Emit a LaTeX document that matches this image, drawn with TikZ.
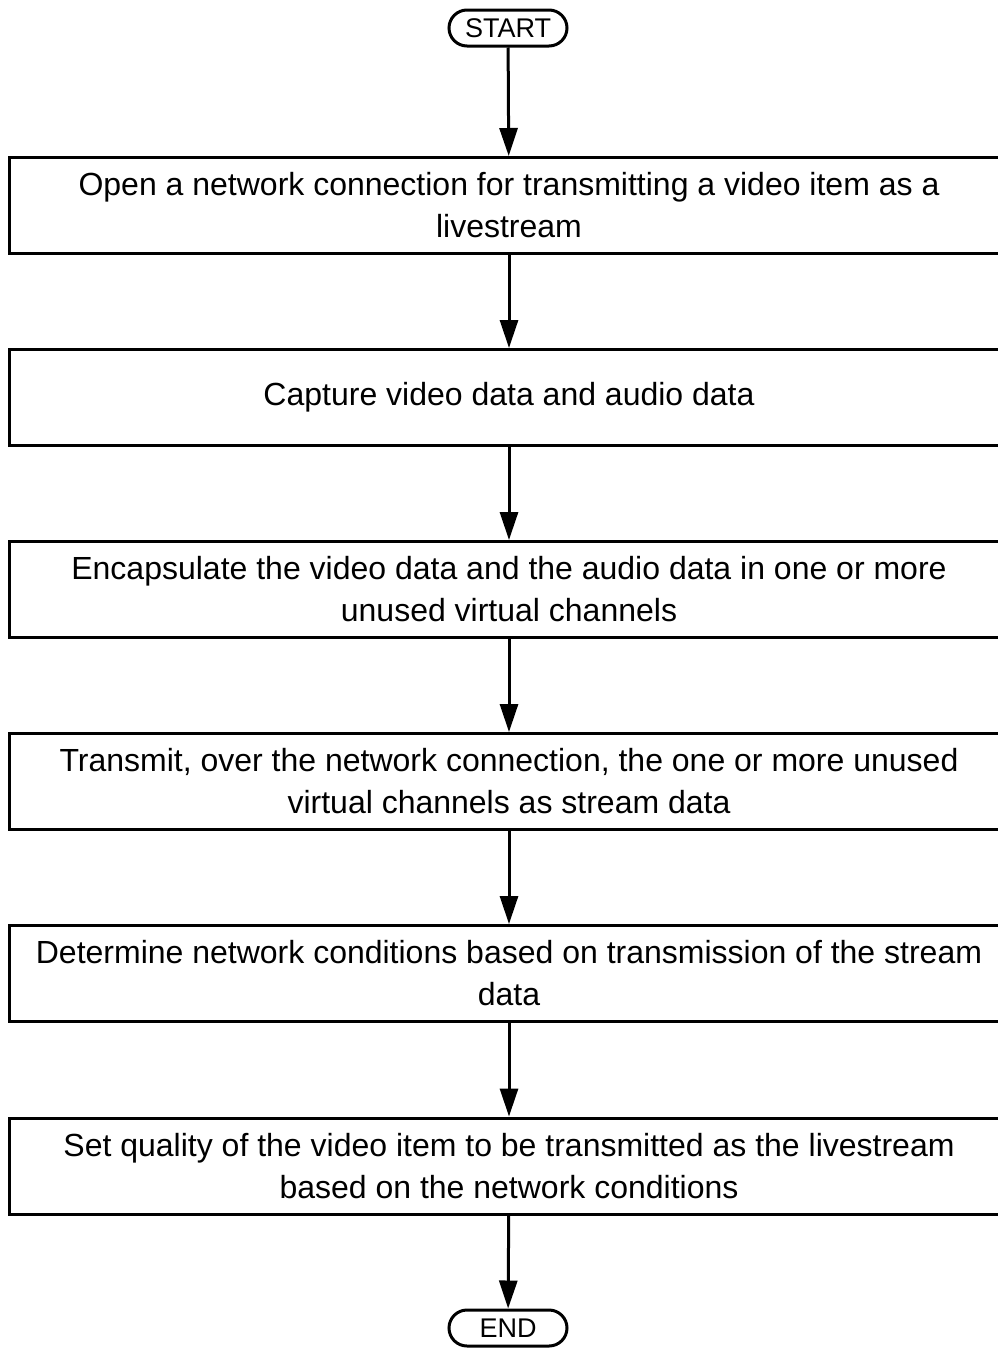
\documentclass[tikz,border=0pt]{standalone}
\usepackage{fontspec}
\setmainfont{Liberation Sans}
\usetikzlibrary{positioning, arrows.meta}

\begin{document}
\begin{tikzpicture}[x=1pt, y=1pt,
    every node/.style={font=\fontsize{32}{42}\selectfont},
    term/.style={rectangle, rounded corners=18pt, draw, line width=3pt, minimum width=118pt, minimum height=36pt, inner sep=0pt, font=\fontsize{27}{30}\selectfont},
    stepbox/.style={rectangle, draw, line width=3pt, minimum width=1000pt, minimum height=96pt, align=center},
    arrow/.style={-{Triangle[length=28pt, width=18pt]}, line width=3pt}]

  \useasboundingbox (0,0) rectangle (998,-1349);
  \clip (0,0) rectangle (998,-1349);

  \node[term] (start) at (508,-28) {START};

  \node[stepbox] (s1) at (509,-205.5) {Open a network connection for transmitting a video item as a\\livestream};
  \node[stepbox] (s2) at (509,-397.5) {Capture video data and audio data};
  \node[stepbox] (s3) at (509,-589.5) {Encapsulate the video data and the audio data in one or more\\unused virtual channels};
  \node[stepbox] (s4) at (509,-781.5) {Transmit, over the network connection, the one or more unused\\virtual channels as stream data};
  \node[stepbox] (s5) at (509,-973.5) {Determine network conditions based on transmission of the stream\\data};
  \node[stepbox] (s6) at (509,-1166) {Set quality of the video item to be transmitted as the livestream\\based on the network conditions};

  \node[term] (end) at (508,-1328) {END};

  \draw[arrow] (start) -- (s1);
  \draw[arrow] (s1) -- (s2);
  \draw[arrow] (s2) -- (s3);
  \draw[arrow] (s3) -- (s4);
  \draw[arrow] (s4) -- (s5);
  \draw[arrow] (s5) -- (s6);
  \draw[arrow] (s6) -- (end);
\end{tikzpicture}
\end{document}
